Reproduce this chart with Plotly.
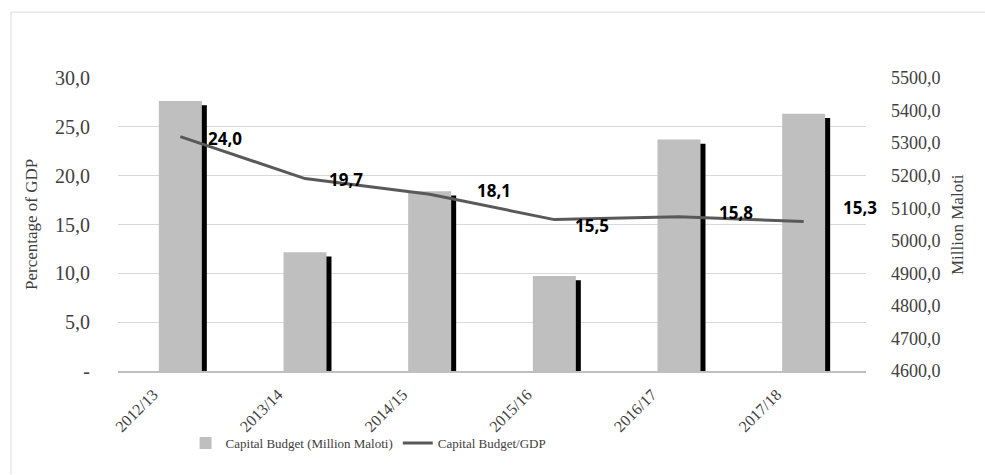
import plotly.graph_objects as go

categories = ["2012/13", "2013/14", "2014/15", "2015/16", "2016/17", "2017/18"]
capital_budget = [5429, 4965, 5152, 4892, 5311, 5390]   # Million Maloti
budget_gdp = [24.0, 19.7, 18.1, 15.5, 15.8, 15.3]         # % of GDP
left_ticks = [0, 5, 10, 15, 20, 25, 30]
left_ticktext = ["-", "5,0", "10,0", "15,0", "20,0", "25,0", "30,0"]

# label pixel offsets (style only)
label_dx = [26, 22, 45, 19, 38, 37]
label_dy = [-2, -1, 4, -6, 4, 14]

SERIF = "Liberation Serif"
W, H = 985, 475
L, R, T, B = 118, 119, 78, 103.5

fig = go.Figure()

shadow_drop = 13  # shadow sits a few px lower (style)
fig.add_trace(go.Bar(
    x=categories, y=[v - 4600 - shadow_drop for v in capital_budget], base=4600,
    yaxis="y", marker=dict(color="#000000", line=dict(width=0)),
    width=0.345, offset=-0.1325, showlegend=False, hoverinfo="skip"))
fig.add_trace(go.Bar(
    x=categories, y=[v - 4600 for v in capital_budget], base=4600,
    yaxis="y", marker=dict(color="#bfbfbf", line=dict(width=0)),
    width=0.345, offset=-0.1725, name="Capital Budget (Million Maloti)"))
fig.add_trace(go.Scatter(
    x=categories, y=budget_gdp, yaxis="y2", mode="lines",
    line=dict(color="#595959", width=3), name="Capital Budget/GDP"))

for c, v, dx, dy in zip(categories, budget_gdp, label_dx, label_dy):
    fig.add_annotation(x=c, y=v, xref="x", yref="y2", text=f"{v:.1f}".replace(".", ","),
                       showarrow=False, xanchor="left", yanchor="middle",
                       xshift=dx, yshift=dy,
                       font=dict(family="Open Sans", size=17, color="#000000", weight="bold"))

fig.update_layout(
    width=W, height=H, margin=dict(l=L, r=R, t=T, b=B, autoexpand=False),
    paper_bgcolor="white", plot_bgcolor="white",
    barmode="overlay", bargap=0.5, separators=",.",
    font=dict(family=SERIF, size=17, color="#404040"),
    xaxis=dict(type="category", range=[-0.5, len(categories) - 0.5], autorange=False,
               tickangle=-45, showgrid=False, showline=True,
               linecolor="#bfbfbf", linewidth=2, ticks="", ticklabelshift=-27,
               ticklabelstandoff=6, tickfont=dict(family=SERIF, size=16, color="#404040")),
    yaxis=dict(side="right", range=[4600, 5500], dtick=100, tick0=4600, tickformat=".1f",
               showgrid=False, zeroline=False, ticks="", ticklabelstandoff=24,
               tickfont=dict(family=SERIF, size=18, color="#404040")),
    yaxis2=dict(side="left", overlaying="y", range=[0, 30], tickvals=left_ticks,
                ticktext=left_ticktext, showgrid=True, gridcolor="#d9d9d9", gridwidth=1,
                zeroline=False, ticks="", ticklabelstandoff=27,
                tickfont=dict(family=SERIF, size=20, color="#404040")),
    legend=dict(orientation="h", x=0.335, xanchor="center", y=-0.195, yanchor="top",
                font=dict(family=SERIF, size=13, color="#404040"),
                traceorder="normal", itemwidth=30, bgcolor="rgba(0,0,0,0)"),
    annotations=list(fig.layout.annotations) + [
        dict(text="Percentage of GDP", xref="paper", yref="paper", x=0, y=0.5,
             xshift=-98, textangle=-90, showarrow=False,
             font=dict(family=SERIF, size=17, color="#404040")),
        dict(text="Million Maloti", xref="paper", yref="paper", x=1, y=0.5,
             xshift=103, textangle=-90, showarrow=False,
             font=dict(family=SERIF, size=17, color="#404040")),
    ],
    shapes=[
        dict(type="line", xref="paper", yref="paper", x0=(11 - L) / (W - L - R), x1=(W - L) / (W - L - R),
             y0=(H - B - 12) / (H - T - B), y1=(H - B - 12) / (H - T - B),
             line=dict(color="#d9d9d9", width=1)),
        dict(type="line", xref="paper", yref="paper", x0=(11 - L) / (W - L - R), x1=(11 - L) / (W - L - R),
             y0=(H - B - 12) / (H - T - B), y1=(H - B - H) / (H - T - B),
             line=dict(color="#d9d9d9", width=1)),
    ],
)

fig.write_html("out.html")
